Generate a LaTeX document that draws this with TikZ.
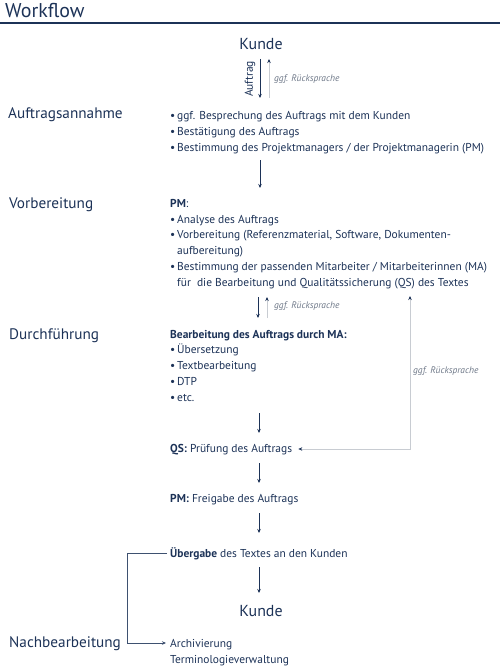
\documentclass[tikz,border=0pt]{standalone}
\usepackage{fontspec}
\setmainfont{PT Sans}
\usetikzlibrary{arrows.meta,calc}
\definecolor{navy}{HTML}{1C3257}
\definecolor{lightgrey}{HTML}{C8CCD2}
\definecolor{notegrey}{HTML}{6E7888}

\newcommand{\itm}{\makebox[7bp][l]{\textbullet}}
\newcommand{\ind}{\hspace*{7bp}}

\begin{document}
\begin{tikzpicture}[x=1bp,y=-1bp,
  every node/.style={inner sep=0pt, text=navy},
  phase/.style={anchor=base west, font=\fontsize{15.3}{18}\selectfont},
  block/.style={anchor=base west, align=left, font=\fontsize{11.5}{15.8}\selectfont},
  kunde/.style={anchor=base, font=\fontsize{16}{18}\selectfont},
  note/.style={anchor=west, font=\fontsize{9.5}{11}\selectfont\itshape, text=notegrey},
  flow/.style={draw=navy, line width=0.8bp, -{Stealth[length=4bp,width=3.5bp]}},
  reply/.style={draw=lightgrey, line width=0.8bp, -{Stealth[length=4bp,width=3.5bp,color=navy]}}]

\useasboundingbox (0,0) rectangle (500,667);

% title
\node[anchor=base west, font=\fontsize{20}{22}\selectfont] (title) at (5,18) {Workflow};
\draw[navy, line width=1.2bp] (0,23) -- (500,23);

% phases
\node[phase] (pAnnahme) at (8,119) {Auftragsannahme};
\node[phase] (pVorb) at (9,208) {Vorbereitung};
\node[phase] (pDurch) at (9,339) {Durchführung};
\node[phase] (pNach) at (9,647) {Nachbearbeitung};

% customer
\node[kunde] (kundeTop) at (261,50) {Kunde};
\node[rotate=90, font=\fontsize{11.5}{12}\selectfont] (auftrag) at (250,79) {Auftrag};
\node[note] (rueck1) at (274,79) {ggf. Rücksprache};
\draw[flow] (260,59) -- (260,98);
\draw[reply] (269,98) -- (269,59);

% blocks (base = last line)
\node[block] (annahme) at (170,151) {\itm ggf. Besprechung des Auftrags mit dem Kunden\\
  \itm Bestätigung des Auftrags\\
  \itm Bestimmung des Projektmanagers / der Projektmanagerin (PM)};
\node[block] (vorb) at (170,286) {\textbf{PM}:\\
  \itm Analyse des Auftrags\\
  \itm Vorbereitung (Referenzmaterial, Software, Dokumenten-\\
  \ind aufbereitung)\\
  \itm Bestimmung der passenden Mitarbeiter / Mitarbeiterinnen (MA)\\
  \ind für\ \ die Bearbeitung und Qualitätssicherung (QS) des Textes};
\node[block] (durch) at (170,401) {\textbf{Bearbeitung des Auftrags durch MA:}\\
  \itm Übersetzung\\
  \itm Textbearbeitung\\
  \itm DTP\\
  \itm etc.};
\node[block] (qs) at (170,452) {\textbf{QS:} Prüfung des Auftrags};
\node[block] (frei) at (170,502) {\textbf{PM:} Freigabe des Auftrags};
\node[block] (ueber) at (170,557) {\textbf{Übergabe} des Textes an den Kunden};
\node[kunde] (kundeEnd) at (261,616) {Kunde};
\node[block] (archiv) at (170,663) {Archivierung\\Terminologieverwaltung};

% flow arrows
\draw[flow] (260,160) -- (260,188);
\draw[flow] (258,297) -- (258,318);
\draw[reply] (267,318) -- (267,297);
\node[note] (rueck2) at (274,306) {ggf. Rücksprache};
\draw[flow] (259,413) -- (259,433);
\draw[flow] (259,463) -- (259,483);
\draw[flow] (259,513) -- (259,533);
\draw[flow] (259,567) -- (259,593);

% feedback from QS
\draw[reply, {Stealth[length=4bp,width=3.5bp,color=navy]}-{Stealth[length=4bp,width=3.5bp,color=navy]}]
  ($(qs.base east)+(6,-3)$) -- (410,449) -- (410,296);
\node[note] (rueck3) at (413,371) {ggf. Rücksprache};

% follow-up
\draw[draw=navy!85, line width=0.8bp, -{Stealth[length=4bp,width=3.5bp]}]
  ($(ueber.base west)+(-3,-4)$) -- (127,553) -- (127,643) -- (166,643);

\end{tikzpicture}
\end{document}
